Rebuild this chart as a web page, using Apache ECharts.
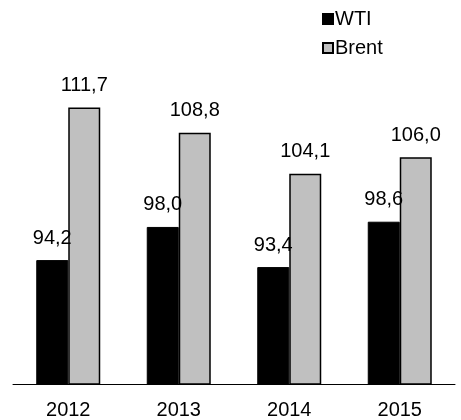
<!DOCTYPE html>
<html>
<head>
<meta charset="utf-8">
<script src="https://cdn.jsdelivr.net/npm/echarts@6/dist/echarts.min.js"></script>
<style>html,body{margin:0;padding:0;background:#fff}#c{width:461px;height:420px}</style>
</head>
<body>
<div id="c"></div>
<script>
const categories = ['2012', '2013', '2014', '2015'];
const wti = [94.2, 98.0, 93.4, 98.6];
const brent = [111.7, 108.8, 104.1, 106.0];
const seriesNames = ['WTI', 'Brent'];

const fmt = p => p.value.toFixed(1).replace('.', ',');
const font = 'Liberation Sans, Arial, sans-serif';
const chart = echarts.init(document.getElementById('c'));
chart.setOption({
  animation: false,
  textStyle: { fontFamily: font },
  legend: {
    orient: 'vertical', left: 322, top: 9, padding: 0, itemWidth: 10, itemHeight: 10, itemGap: 9,
    icon: 'rect',
    textStyle: { fontSize: 20, color: '#000', fontFamily: font, padding: [0, 0, 0, -3] },
    data: seriesNames
  },
  grid: { left: 13, right: 6, top: 35, bottom: 36 },
  xAxis: {
    type: 'category', data: categories,
    axisLine: { lineStyle: { color: '#000', width: 1 } },
    axisTick: { show: false },
    axisLabel: { color: '#000', fontSize: 20, margin: 16, fontFamily: font }
  },
  yAxis: { type: 'value', min: 80, max: 120, show: false, splitLine: { show: false } },
  series: [
    { name: seriesNames[0], type: 'bar', data: wti, barWidth: 32, barGap: '0%',
      itemStyle: { color: '#000', borderColor: '#000', borderWidth: 1 },
      label: { show: true, position: 'top', distance: 12, formatter: fmt, color: '#000', fontSize: 20, fontFamily: font } },
    { name: seriesNames[1], type: 'bar', data: brent, barWidth: 32, barGap: '0%',
      itemStyle: { color: '#c0c0c0', borderColor: '#000', borderWidth: 1.5 },
      label: { show: true, position: 'top', distance: 12, formatter: fmt, color: '#000', fontSize: 20, fontFamily: font } }
  ]
});
</script>
</body>
</html>
